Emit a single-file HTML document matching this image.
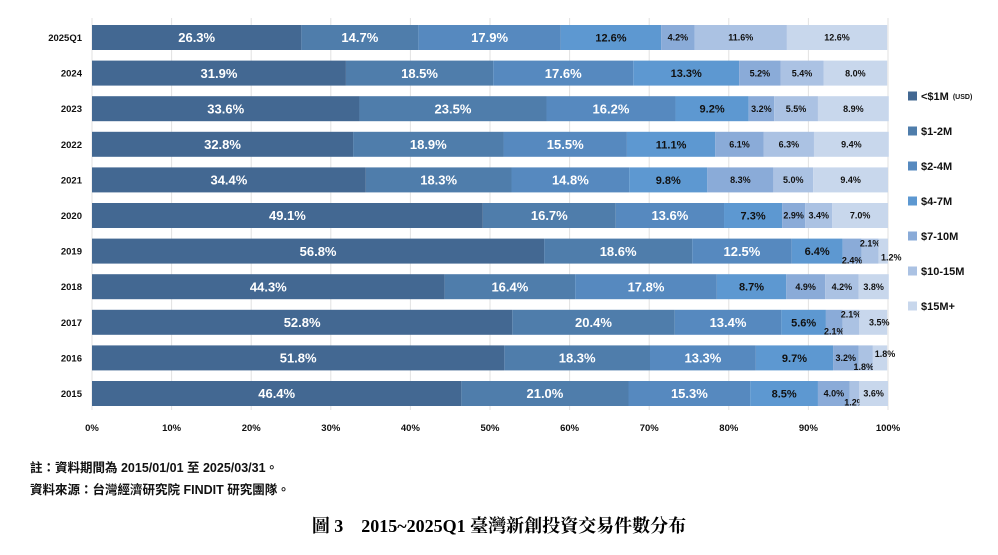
<!DOCTYPE html>
<html><head><meta charset="utf-8">
<style>
body{margin:0;background:#fff;width:998px;height:555px;overflow:hidden;}
svg{display:block;font-family:"Liberation Sans","Noto Sans CJK TC",sans-serif;}
</style></head>
<body>
<svg id="chart" width="998" height="555" viewBox="0 0 998 555" xmlns="http://www.w3.org/2000/svg">
<g id="grid"></g>
<g id="bars"></g>
<g id="ylabels"></g>
<g id="xlabels"></g>
<g id="legend"></g>
<text x="30" y="472" font-size="12.5" font-weight="bold" fill="#111">註：資料期間為 2015/01/01 至 2025/03/31。</text>
<text x="30" y="494" font-size="12.5" font-weight="bold" fill="#111">資料來源：台灣經濟研究院 FINDIT 研究團隊。</text>
<text x="499" y="532" text-anchor="middle" font-family="'Liberation Serif','Noto Serif CJK SC',serif" font-size="18" font-weight="bold" fill="#000">圖 3　2015~2025Q1 臺灣新創投資交易件數分布</text>
</svg>
<script>
const categories=["2025Q1","2024","2023","2022","2021","2020","2019","2018","2017","2016","2015"];
const seriesNames=["<$1M","$1-2M","$2-4M","$4-7M","$7-10M","$10-15M","$15M+"];
const s1=[26.3,31.9,33.6,32.8,34.4,49.1,56.8,44.3,52.8,51.8,46.4];
const s2=[14.7,18.5,23.5,18.9,18.3,16.7,18.6,16.4,20.4,18.3,21.0];
const s3=[17.9,17.6,16.2,15.5,14.8,13.6,12.5,17.8,13.4,13.3,15.3];
const s4=[12.6,13.3,9.2,11.1,9.8,7.3,6.4,8.7,5.6,9.7,8.5];
const s5=[4.2,5.2,3.2,6.1,8.3,2.9,2.4,4.9,2.1,3.2,4.0];
const s6=[11.6,5.4,5.5,6.3,5.0,3.4,2.1,4.2,2.1,1.8,1.2];
const s7=[12.6,8.0,8.9,9.4,9.4,7.0,1.2,3.8,3.5,1.8,3.6];
const xTicks=[0,10,20,30,40,50,60,70,80,90,100];
const series=[s1,s2,s3,s4,s5,s6,s7];
const colors=["#436892","#4f7dab","#5689bf","#5d98d1","#8aabd8","#abc2e3","#c8d7ec"];
const NS="http://www.w3.org/2000/svg";
const x0=92,x1=888,yTop=25,step=35.6,bh=25;
const xs=v=>x0+(x1-x0)*v/100;
const yc=i=>yTop+bh/2+i*step;
const offs={"6-4":[0,9],"6-5":[0,-8],"6-6":[8,6],"8-4":[0,9],"8-5":[0,-8],"8-6":[6,0],"9-5":[-2,9],"9-6":[5,-4],"10-5":[0,9]};
function mk(tag,attrs,parent){const e=document.createElementNS(NS,tag);for(const k in attrs)e.setAttribute(k,attrs[k]);parent.appendChild(e);return e;}
const grid=document.getElementById('grid'),bars=document.getElementById('bars'),yl=document.getElementById('ylabels'),xl=document.getElementById('xlabels'),lg=document.getElementById('legend');
xTicks.forEach(t=>{
  const l=mk('line',{x1:xs(t),x2:xs(t),y1:18,y2:410,stroke:'#e2e2e2','stroke-width':1},grid);
  
  
  const tx=mk('text',{x:xs(t),y:431,'text-anchor':'middle','font-size':9.5,'font-weight':'bold',fill:'#111'},xl);
  tx.textContent=t+'%';
  
  
});
categories.forEach((c,i)=>{
  const t=mk('text',{x:82,y:yc(i)+3.5,'text-anchor':'end','font-size':9.5,'font-weight':'bold',fill:'#111'},yl);
  t.textContent=c;
  
  
  let cum=0;
  series.forEach((s,j)=>{
    const v=s[i];
    const r=mk('rect',{x:xs(cum),y:yc(i)-bh/2,width:xs(cum+v)-xs(cum),height:bh,fill:colors[j]},bars);
    
    
    const mid=(xs(cum)+xs(cum+v))/2;
    const o=offs[i+'-'+j]||[0,0];
    let fs=j<3?13:(j==3?11:9), fill=j<3?'#fff':'#111';
    const tt=mk('text',{x:mid+o[0],y:yc(i)+fs*0.36+o[1],'text-anchor':'middle','font-size':fs,'font-weight':'bold',fill:fill},bars);
    tt.textContent=v.toFixed(1)+'%';
    
    
    cum+=v;
  });
});
seriesNames.forEach((n,j)=>{
  const y=96+j*35;
  const r=mk('rect',{x:908,y:y-4.5,width:9,height:9,fill:colors[j]},lg);
  
  
  const t=mk('text',{x:921,y:y+4,'font-size':11,'font-weight':'bold',fill:'#111'},lg);
  t.textContent=n;
  
  
  if(j==0){const u=mk('tspan',{'font-size':7,dx:4,dy:-1},t);u.textContent='(USD)';}
});
</script>
</body></html>
